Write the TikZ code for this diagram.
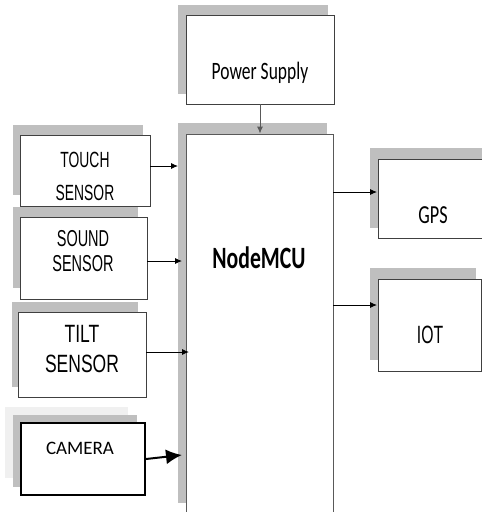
\documentclass[tikz,border=0pt]{standalone}
\usepackage{fontspec}
\usetikzlibrary{arrows.meta}
\newfontfamily\calib[FakeStretch=0.70]{Carlito}
\newfontfamily\arialn[FakeStretch=0.63]{Liberation Sans}
\newfontfamily\arialw[FakeStretch=0.70]{Liberation Sans}
\newfontfamily\camfont{Carlito}
\definecolor{shadowgray}{HTML}{BFBFBF}
\definecolor{palegray}{HTML}{F0F0F0}
\definecolor{edge}{HTML}{404040}
\definecolor{mcuedge}{HTML}{595959}
\tikzset{
  blk/.style={draw=edge,fill=white,line width=0.9pt,inner sep=0pt},
  shd/.style={fill=shadowgray},
  txt/.style={inner sep=0pt,align=center,text=black},
}
\begin{document}
\begin{tikzpicture}[x=1pt,y=-1pt,>={Latex[length=7pt,width=6pt]}]
  \useasboundingbox (0,0) rectangle (482,512);
  \clip (0,0) rectangle (482,512);
  % shadows
  \fill[shd] (178,5) rectangle (328,94);
  \node[shd,inner sep=0pt,minimum width=149pt,minimum height=380pt] (mcushd) at (252.5,313) {};
  \fill[shd] (13,125) rectangle (143,195);
  \fill[shd] (13,207) rectangle (138,288);
  \fill[shd] (12,302) rectangle (138,387);
  \fill[palegray] (5,407) rectangle (128,478);
  \fill[shd] (13,415) rectangle (137,487);
  \fill[shd] (370,148) rectangle (482,228);
  \fill[shd] (370,268) rectangle (476,360);
  % blocks
  \node[blk,minimum width=148pt,minimum height=89pt] (power) at (260,59.5) {};
  \node[blk,draw=mcuedge,minimum width=147pt,minimum height=406pt] (mcu) at (259.5,337) {};
  \node[blk,minimum width=130pt,minimum height=71pt] (touch) at (85,170.5) {};
  \node[blk,minimum width=127pt,minimum height=82pt] (sound) at (83.5,258) {};
  \node[blk,minimum width=128pt,minimum height=85pt] (tilt) at (82,354.5) {};
  \node[blk,draw=black,line width=2pt,minimum width=124pt,minimum height=72pt] (camera) at (83,459) {};
  \node[blk,minimum width=142pt,minimum height=79pt] (gps) at (449,198.5) {};
  \node[blk,minimum width=103pt,minimum height=92pt] (iot) at (429.5,325) {};
  % texts
  \node[txt,anchor=base,font=\calib\fontsize{25}{30}\selectfont] (tpower) at (260,79) {Power Supply};
  \node[txt,anchor=base,font=\calib\bfseries\fontsize{31}{36}\selectfont] (tmcu) at (259,268) {NodeMCU};
  \node[txt,font=\arialn\fontsize{22}{33}\selectfont] (ttouch) at (85,176.5) {TOUCH\\SENSOR};
  \node[txt,font=\arialn\fontsize{23}{25}\selectfont] (tsound) at (83,251.5) {SOUND\\SENSOR};
  \node[txt,font=\arialw\fontsize{25}{30}\selectfont] (ttilt) at (82,349) {TILT\\SENSOR};
  \node[txt,anchor=base,font=\camfont\fontsize{19}{23}\selectfont] (tcamera) at (80,454) {CAMERA};
  \node[txt,anchor=base,font=\calib\fontsize{26}{30}\selectfont] (tgps) at (433,223) {GPS};
  \node[txt,anchor=base,font=\arialn\fontsize{25}{30}\selectfont] (tiot) at (430,343) {IOT};
  % arrow ends
  \coordinate (touchin) at (178,166);
  \coordinate (soundin) at (182,261);
  \coordinate (tiltin) at (189,352);
  \coordinate (camin) at (182,455);
  \coordinate (gpsin) at (377,192);
  \coordinate (iotin) at (377,305);
  % connectors
  \draw[->,mcuedge,line width=0.9pt] (power.south) -- (power.south |- mcu.north);
  \draw[->,line width=0.9pt] (touch.east |- touchin) -- (touchin);
  \draw[->,line width=0.9pt] (sound.east |- soundin) -- (soundin);
  \draw[->,line width=0.9pt] (tilt.east |- tiltin) -- (tiltin);
  \draw[-{Latex[length=16pt,width=15pt]},line width=2pt] (camera.east) -- (camin);
  \draw[->,line width=0.9pt] (mcu.east |- gpsin) -- (gpsin);
  \draw[->,line width=0.9pt] (mcu.east |- iotin) -- (iotin);
\end{tikzpicture}
\end{document}
